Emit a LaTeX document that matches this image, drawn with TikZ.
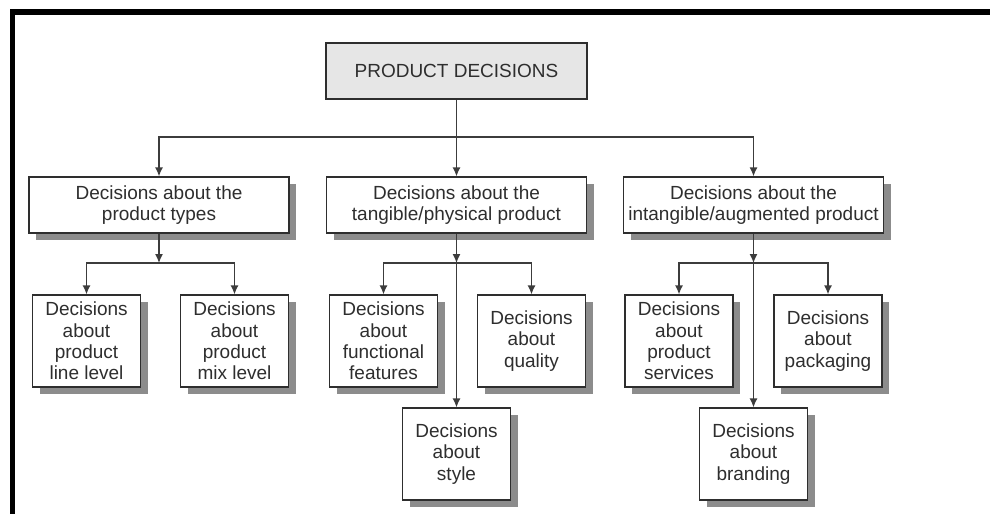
\documentclass[tikz,border=0pt]{standalone}
\usepackage{fontspec}
\setmainfont{Liberation Sans}
\usetikzlibrary{arrows.meta,shadows}
\definecolor{ink}{HTML}{2E2E2E}
\definecolor{linec}{HTML}{3C3C3C}
\definecolor{shade}{HTML}{8C8C8C}
\definecolor{rootfill}{HTML}{E6E6E6}
\begin{document}
\begin{tikzpicture}[x=1pt,y=-1pt,
  txt/.style={font=\fontsize{19}{21.2}\selectfont, text=ink, align=center, inner sep=0pt},
  boxbase/.style={txt, draw=ink, line width=1.2pt, fill=white},
  shadowed/.style={boxbase, drop shadow={shadow xshift=7pt, shadow yshift=-7pt, fill=shade, opacity=1}},
  rootbox/.style={boxbase, fill=rootfill, minimum width=261pt, minimum height=56pt},
  midbox/.style={shadowed, minimum width=260pt, minimum height=56pt},
  leafbox/.style={shadowed, minimum width=108pt, minimum height=92pt},
  conn/.style={draw=linec, line width=1.4pt},
  arr/.style={conn, -{Latex[length=9pt,width=8pt]}}
]
\useasboundingbox (0,0) rectangle (990,514);
\fill[white] (0,0) rectangle (990,514);
% frame
\fill[black] (10,9) rectangle (990,15);
\fill[black] (10,9) rectangle (15,514);

\node[rootbox] (root) at (456.5,71) {PRODUCT DECISIONS};

\node[midbox] (A) at (159,205) {Decisions about the\\product types};
\node[midbox] (B) at (456.5,205) {Decisions about the\\tangible/physical product};
\node[midbox] (C) at (753.5,205) {Decisions about the\\intangible/augmented product};

\node[leafbox] (A1) at (86.5,341) {Decisions\\about\\product\\line level};
\node[leafbox] (A2) at (234.5,341) {Decisions\\about\\product\\mix level};

\node[leafbox] (B1) at (383.5,341) {Decisions\\about\\functional\\features};
\node[leafbox] (B2) at (531.5,341) {Decisions\\about\\quality};
\node[leafbox] (B3) at (456.5,454) {Decisions\\about\\style};

\node[leafbox] (C1) at (679,341) {Decisions\\about\\product\\services};
\node[leafbox] (C2) at (828,341) {Decisions\\about\\packaging};
\node[leafbox] (C3) at (753.5,454) {Decisions\\about\\branding};

% junctions
\coordinate (j0) at (456.5,137);
\coordinate (ja) at (159,263);
\coordinate (jb) at (456.5,263);
\coordinate (jc) at (753.5,263);

\draw[conn] (root.south) -- (j0);
\draw[arr] (j0) -| (A.north);
\draw[arr] (j0) -- (B.north);
\draw[arr] (j0) -| (C.north);

\draw[arr] (A.south) -- (ja);
\draw[arr] (ja) -| (A1.north);
\draw[arr] (ja) -| (A2.north);

\draw[arr] (B.south) -- (jb);
\draw[arr] (jb) -| (B1.north);
\draw[arr] (jb) -| (B2.north);
\draw[arr] (jb) -- (B3.north);

\draw[arr] (C.south) -- (jc);
\draw[arr] (jc) -| (C1.north);
\draw[arr] (jc) -| (C2.north);
\draw[arr] (jc) -- (C3.north);
\end{tikzpicture}
\end{document}
